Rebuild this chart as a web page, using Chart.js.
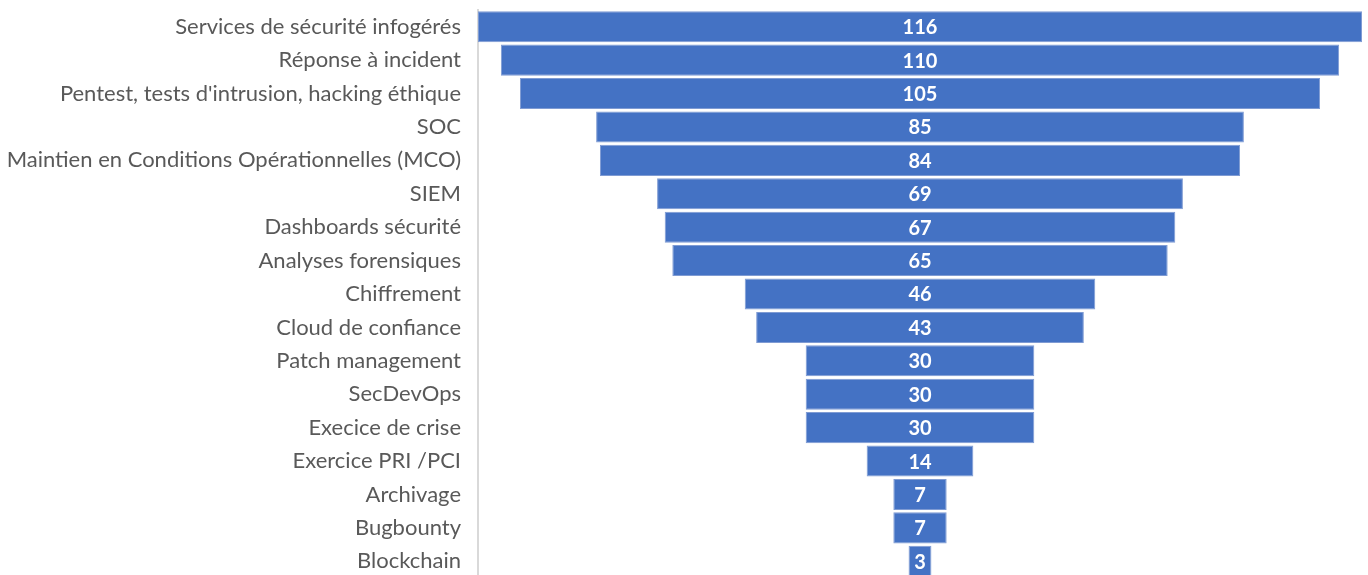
<!DOCTYPE html>
<html lang="fr">
<head>
  <meta charset="UTF-8">
  <title>Funnel - services sécurité</title>
  <script src="https://cdn.jsdelivr.net/npm/chart.js"></script>
  <style>
    html, body {
      margin: 0;
      padding: 0;
      background: #ffffff;
      overflow: hidden;
    }
    .chart-box {
      position: relative;
      width: 1368px;
      height: 578px;
    }
  </style>
</head>
<body>
  <div class="chart-box">
    <canvas id="funnel"></canvas>
  </div>

  <script>
    const categories = [
      "Services de sécurité infogérés",
      "Réponse à incident",
      "Pentest, tests d'intrusion, hacking éthique",
      "SOC",
      "Maintien en Conditions Opérationnelles (MCO)",
      "SIEM",
      "Dashboards sécurité",
      "Analyses forensiques",
      "Chiffrement",
      "Cloud de confiance",
      "Patch management",
      "SecDevOps",
      "Execice de crise",
      "Exercice PRI /PCI",
      "Archivage",
      "Bugbounty",
      "Blockchain"
    ];
    const counts = [116, 110, 105, 85, 84, 69, 67, 65, 46, 43, 30, 30, 30, 14, 7, 7, 3];

    // funnel: each bar floats symmetric around zero
    const floating = counts.map(v => [-v / 2, v / 2]);

    // draw the count in the middle of each bar
    const valueLabels = {
      id: "valueLabels",
      afterDatasetsDraw(chart) {
        const ctx = chart.ctx;
        const meta = chart.getDatasetMeta(0);
        ctx.save();
        ctx.fillStyle = "#ffffff";
        ctx.font = "bold 20px Lato, 'Open Sans', sans-serif";
        ctx.textAlign = "center";
        ctx.textBaseline = "middle";
        meta.data.forEach((bar, i) => {
          const cx = (bar.x + bar.base) / 2;
          ctx.fillText(String(counts[i]), cx, bar.y + 1);
        });
        ctx.restore();
      }
    };

    new Chart(document.getElementById("funnel"), {
      type: "bar",
      data: {
        labels: categories,
        datasets: [{
          data: floating,
          backgroundColor: "#4472c4",
          borderColor: "#7f9bd3",
          borderWidth: 1,
          borderSkipped: false,
          barPercentage: 0.93,
          categoryPercentage: 1
        }]
      },
      options: {
        indexAxis: "y",
        responsive: true,
        maintainAspectRatio: false,
        animation: false,
        layout: { padding: { top: 10, right: 6, bottom: 0, left: 0 } },
        plugins: {
          legend: { display: false },
          tooltip: { enabled: false }
        },
        scales: {
          x: {
            display: false,
            min: -58,
            max: 58
          },
          y: {
            afterFit(axis) {
              axis.width = 478;
              axis.paddingTop = 0;
              axis.paddingBottom = 0;
            },
            grid: { display: false, drawTicks: false },
            border: { display: true, color: "#d9d9d9", width: 2 },
            ticks: {
              padding: 17,
              color: "#595959",
              font: { family: "Lato, 'Open Sans', sans-serif", size: 22 }
            }
          }
        }
      },
      plugins: [valueLabels]
    });
  </script>
</body>
</html>
